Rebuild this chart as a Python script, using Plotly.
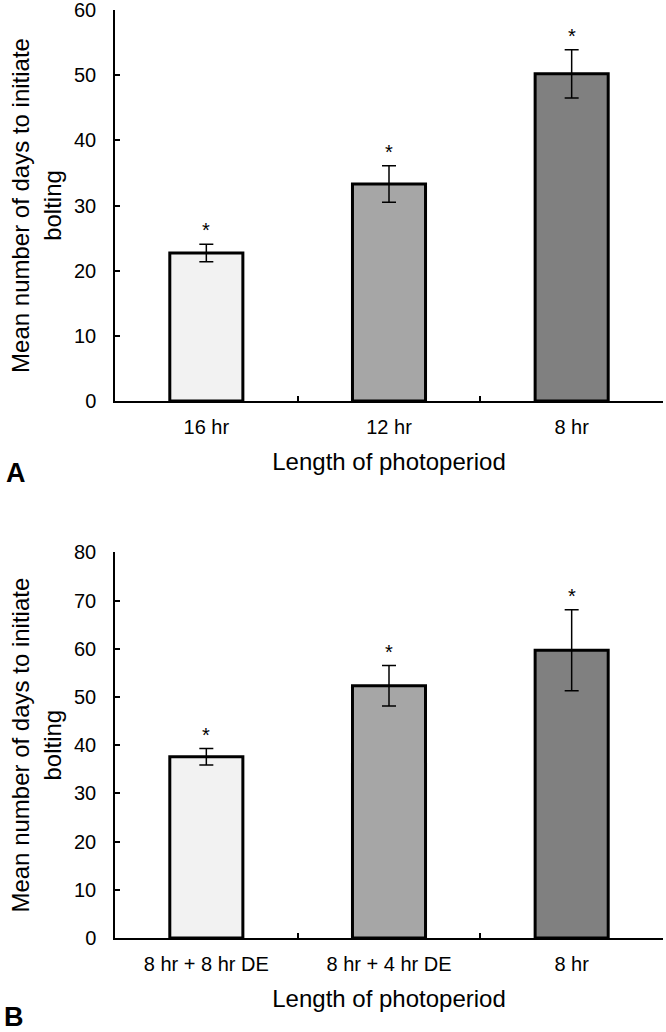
import plotly.graph_objects as go

# Panel A data
cats_a = ["16 hr", "12 hr", "8 hr"]
mean_a = [22.7, 33.3, 50.2]
err_a = [1.35, 2.8, 3.7]

# Panel B data
cats_b = ["8 hr + 8 hr DE", "8 hr + 4 hr DE", "8 hr"]
mean_b = [37.6, 52.3, 59.7]
err_b = [1.7, 4.2, 8.4]

bar_colors = ["#f2f2f2", "#a6a6a6", "#808080"]
ticks_a = [0, 10, 20, 30, 40, 50, 60]
ticks_b = [0, 10, 20, 30, 40, 50, 60, 70, 80]

FONT = "Liberation Sans, Arial, sans-serif"
W, H = 666, 1032
L, R, T, B = 115, 3, 10, 94
ph = H - T - B

def py(pix):
    return (H - B - pix) / ph

fig = go.Figure()

for cats, means, errs, xa, ya in [(cats_a, mean_a, err_a, "x", "y"), (cats_b, mean_b, err_b, "x2", "y2")]:
    fig.add_trace(go.Bar(
        x=cats, y=means, xaxis=xa, yaxis=ya, width=0.4,
        marker=dict(color=bar_colors, line=dict(color="black", width=3)),
        error_y=dict(type="data", array=errs, visible=True, color="black", thickness=1.5, width=7),
        showlegend=False,
    ))
    for c, m, e in zip(cats, means, errs):
        fig.add_annotation(x=c, y=m + e, xref=xa, yref=ya, text="*", showarrow=False,
                           yanchor="bottom", yshift=1, font=dict(family=FONT, size=20, color="black"))

axis_common = dict(showline=True, linecolor="black", linewidth=1.5, showgrid=False, zeroline=False,
                   automargin=False, ticklabeloverflow="allow",
                   tickfont=dict(family=FONT, size=20, color="black"))
xcommon = dict(axis_common, ticks="inside", ticklen=5, tickwidth=1.5, tickcolor="black",
               tickson="boundaries", ticklabelstandoff=7,
               title=dict(text="Length of photoperiod", standoff=16,
                          font=dict(family=FONT, size=24, color="black")))
ycommon = dict(axis_common, ticks="inside", ticklen=5, tickwidth=1.5, tickcolor="black",
               ticklabelstandoff=13,
               title=dict(text="Mean number of days to initiate<br>bolting", standoff=6,
                          font=dict(family=FONT, size=24, color="black")))

fig.update_layout(
    width=W, height=H, paper_bgcolor="white", plot_bgcolor="white",
    margin=dict(l=L, r=R, t=T, b=B),
    bargap=0.6,
    xaxis=dict(xcommon, domain=[0, 1], anchor="y"),
    yaxis=dict(ycommon, domain=[py(401), 1.0], range=[0, 60], tickvals=ticks_a, anchor="x"),
    xaxis2=dict(xcommon, domain=[0, 1], anchor="y2"),
    yaxis2=dict(ycommon, domain=[0, py(552.3)], range=[0, 80], tickvals=ticks_b, anchor="x2"),
)

fig.add_annotation(text="<b>A</b>", xref="paper", yref="paper", x=(4 - L) / (W - L - R), y=py(473),
                   xanchor="left", yanchor="middle", showarrow=False,
                   font=dict(family=FONT, size=27, color="black"))
fig.add_annotation(text="<b>B</b>", xref="paper", yref="paper", x=(2 - L) / (W - L - R), y=py(1017),
                   xanchor="left", yanchor="middle", showarrow=False,
                   font=dict(family=FONT, size=27, color="black"))

fig.write_html("out.html", config={"displayModeBar": False},
               post_script="document.body.style.margin='0';document.body.style.overflow='hidden';")
